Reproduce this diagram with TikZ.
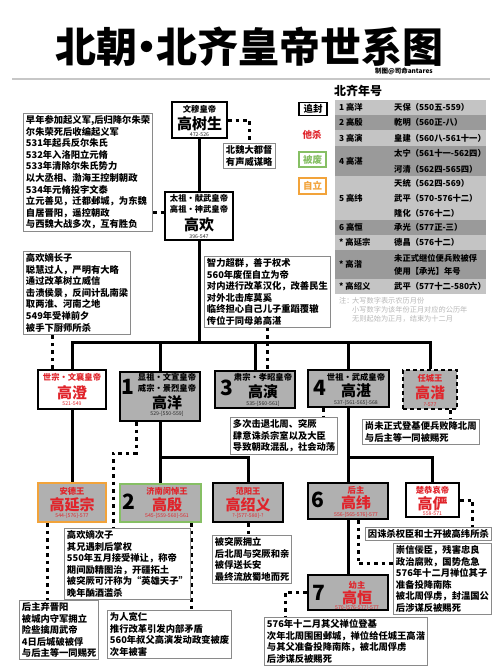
\documentclass[tikz,border=0pt]{standalone}
\usepackage{fontspec}
\setmainfont{Noto Sans CJK SC}
\setsansfont{Noto Sans CJK SC}
\usetikzlibrary{calc}
\definecolor{boxgray}{HTML}{B0B0B0}
\definecolor{tlight}{HTML}{C4C4C4}
\definecolor{tdark}{HTML}{9A9A9A}
\definecolor{kred}{HTML}{E0242B}
\definecolor{kgreen}{HTML}{86BF64}
\definecolor{korange}{HTML}{F2A33A}
\definecolor{descgray}{HTML}{8A8A8A}
\pgfdeclarelayer{bg}
\pgfsetlayers{bg,main}
\begin{document}
\begin{tikzpicture}[x=1pt,y=-1pt,
  nbox/.style={draw=black, line width=2.2pt, fill=white, inner sep=0pt},
  gbox/.style={nbox, fill=boxgray},
  tl/.style={inner sep=0pt, font=\fontsize{8.3}{9}\selectfont\bfseries},
  nm/.style={inner sep=0pt, font=\fontsize{15}{16}\selectfont\bfseries},
  dtt/.style={inner sep=0pt, font=\fontsize{5.2}{6}\selectfont, text=black!85},
  numd/.style={inner sep=0pt, font=\fontsize{21}{21}\selectfont\bfseries},
  rd/.style={text=kred},
  desc/.style={draw=descgray, line width=0.9pt, fill=white, align=left, anchor=north west, inner xsep=2.5pt, inner ysep=2pt, font=\fontsize{9.3}{11.6}\selectfont\bfseries},
  sol/.style={line width=3pt},
  dotl/.style={line width=3pt, dash pattern=on 3.5pt off 4pt},
  tname/.style={anchor=west, inner sep=0pt, font=\fontsize{8.3}{9}\selectfont\bfseries},
  lg/.style={line width=1.4pt, minimum width=27, minimum height=15, inner sep=0pt, fill=white, font=\fontsize{9.5}{10}\selectfont\bfseries},
  note/.style={anchor=west, inner sep=0pt, text=black!28, font=\fontsize{7.2}{8}\selectfont},
]
\useasboundingbox (0,0) rectangle (500,669);
\begin{pgfonlayer}{bg}
\fill[white] (0,0) rectangle (500,669);
\end{pgfonlayer}

% title
\node[inner sep=0pt] (title) at (249,47) {\fontsize{41}{41}\selectfont\bfseries 北朝\kern-11pt·\kern-11pt北齐皇帝世系图};
\node[anchor=east, inner sep=0pt] (credit) at (433,71) {\fontsize{6.5}{7}\selectfont\bfseries 制图@司命antares};
\draw[black!22, line width=1.2pt] (12,79) -- (490,79);

% legend
\node[inner sep=0pt] (nqhead) at (358,91) {\fontsize{12}{12}\selectfont\bfseries 北齐年号};
\node[lg, draw=black, minimum width=28, minimum height=13] (lg1) at (313,109) {追封};
\node[lg, text=kred] (lg2) at (312,135) {他杀};
\node[lg, draw=kgreen, text=kgreen] (lg3) at (312.5,159.5) {被废};
\node[lg, draw=korange, text=korange, minimum height=16] (lg4) at (312.5,186) {自立};

% table of era names
\fill[tlight] (335,100) rectangle (486,115);
\fill[tdark]  (335,115) rectangle (486,130);
\fill[tlight] (335,130) rectangle (486,146);
\fill[tdark]  (335,146) rectangle (486,176);
\fill[tlight] (335,176) rectangle (486,220);
\fill[tdark]  (335,220) rectangle (486,235);
\fill[tlight] (335,235) rectangle (486,250);
\fill[tdark]  (335,250) rectangle (486,279);
\fill[tlight] (335,279) rectangle (486,294);
\node[tname] (t1n) at (339,107.5) {1 高洋};
\node[tname] (t1e) at (394,107.5) {天保（550五-559）};
\node[tname] (t2n) at (339,122.5) {2 高殷};
\node[tname] (t2e) at (394,122.5) {乾明（560正-八）};
\node[tname] (t3n) at (339,138) {3 高演};
\node[tname] (t3e) at (394,138) {皇建（560八-561十一）};
\node[tname] (t4n) at (339,161) {4 高湛};
\node[tname] (t4e) at (394,153.5) {太宁（561十一-562四）};
\node[tname] (t4f) at (394,169) {河清（562四-565四）};
\node[tname] (t5n) at (339,198) {5 高纬};
\node[tname] (t5e) at (394,183) {天统（562四-569）};
\node[tname] (t5f) at (394,198) {武平（570-576十二）};
\node[tname] (t5g) at (394,213) {隆化（576十二）};
\node[tname] (t6n) at (339,227.5) {6 高恒};
\node[tname] (t6e) at (394,227.5) {承光（577正-三）};
\node[tname] (t7n) at (339,242.5) {* 高延宗};
\node[tname] (t7e) at (394,242.5) {德昌（576十二）};
\node[tname] (t8n) at (339,264.5) {* 高湝};
\node[tname] (t8e) at (394,258) {未正式继位便兵败被俘};
\node[tname] (t8f) at (394,271.5) {使用【承光】年号};
\node[tname] (t9n) at (339,286.5) {* 高绍义};
\node[tname] (t9e) at (394,286.5) {武平（577十二-580六）};
\node[note] (n1) at (339,301) {注：};
\node[note] (n2) at (352,301) {大写数字表示农历月份};
\node[note] (n3) at (352,310) {小写数字为该年份正月对应的公历年};
\node[note] (n4) at (352,319) {无则起始为正月，结束为十二月};

% ruler boxes
\node[nbox, minimum width=55, minimum height=36] (shusheng) at (199.5,120) {};
\node[tl] (shusheng-a) at (199.5,109.5) {文穆皇帝};
\node[nm] (shusheng-b) at (199.5,123.5) {高树生};
\node[dtt] (shusheng-c) at (199.5,134.5) {472-526};

\node[nbox, minimum width=68, minimum height=48] (gaohuan) at (199,216) {};
\node[tl] (gaohuan-a) at (199,198.5) {太祖·献武皇帝};
\node[tl] (gaohuan-b) at (199,209) {高祖·神武皇帝};
\node[nm] (gaohuan-c) at (199,225) {高欢};
\node[dtt] (gaohuan-d) at (199,236.5) {396-547};

\node[nbox, minimum width=68, minimum height=39] (gaocheng) at (72,389.5) {};
\node[tl, rd] (gaocheng-a) at (72,377.5) {世宗·文襄皇帝};
\node[nm, rd] (gaocheng-b) at (72,393) {高澄};
\node[dtt, rd] (gaocheng-c) at (72,404) {521-549};

\node[gbox, minimum width=80, minimum height=49] (gaoyang) at (160,396.5) {};
\node[numd] (gaoyang-n) at (128,387) {1};
\node[tl] (gaoyang-a) at (167,377.5) {显祖·文宣皇帝};
\node[tl] (gaoyang-b) at (167,388) {威宗·景烈皇帝};
\node[nm] (gaoyang-c) at (167,402.5) {高洋};
\node[dtt] (gaoyang-d) at (167,414) {529-[550-559]};

\node[gbox, minimum width=80, minimum height=37] (gaoyan) at (255,389.5) {};
\node[numd] (gaoyan-n) at (227,388) {3};
\node[tl] (gaoyan-a) at (263,377.5) {肃宗·孝昭皇帝};
\node[nm] (gaoyan-b) at (263,392) {高演};
\node[dtt] (gaoyan-c) at (263,403.5) {535-[560-561]};

\node[gbox, minimum width=81, minimum height=37] (gaozhan) at (348.5,388.5) {};
\node[numd] (gaozhan-n) at (320,388) {4};
\node[tl] (gaozhan-a) at (356,377.5) {世祖·武成皇帝};
\node[nm] (gaozhan-b) at (356,391) {高湛};
\node[dtt] (gaozhan-c) at (356,402.5) {537-[561-565]-568};

\node[gbox, dash pattern=on 4pt off 3pt, line width=2pt, minimum width=54, minimum height=39] (gaoqian) at (430,389.5) {};
\node[tl, rd] (gaoqian-a) at (430,378) {任城王};
\node[nm, rd] (gaoqian-b) at (430,392.5) {高湝};
\node[dtt, rd] (gaoqian-c) at (430,404.5) {?-577};

\node[gbox, draw=korange, minimum width=68, minimum height=39] (gaoyanzong) at (72,502.5) {};
\node[tl, rd] (gaoyanzong-a) at (72,491.5) {安德王};
\node[nm, rd] (gaoyanzong-b) at (72,505) {高延宗};
\node[dtt, rd] (gaoyanzong-c) at (72,515.5) {544-[576]-577};

\node[gbox, draw=kgreen, minimum width=81, minimum height=38] (gaoyin) at (160.5,503) {};
\node[numd] (gaoyin-n) at (129,502) {2};
\node[tl, rd] (gaoyin-a) at (167,491.5) {济南闵悼王};
\node[nm, rd] (gaoyin-b) at (167,505) {高殷};
\node[dtt, rd] (gaoyin-c) at (167,516) {545-[559-560]-561};

\node[gbox, minimum width=70, minimum height=39] (gaoshaoyi) at (248,502.5) {};
\node[tl, rd] (gaoshaoyi-a) at (248,491.5) {范阳王};
\node[nm, rd] (gaoshaoyi-b) at (248,505) {高绍义};
\node[dtt, rd] (gaoshaoyi-c) at (248,516) {?-[577-580]-?};

\node[gbox, minimum width=80, minimum height=36] (gaowei) at (348,501) {};
\node[numd] (gaowei-n) at (318,500) {6};
\node[tl, rd] (gaowei-a) at (356,490) {后主};
\node[nm, rd] (gaowei-b) at (356,503) {高纬};
\node[dtt, rd] (gaowei-c) at (356,514.5) {556-[565-576]-577};

\node[nbox, minimum width=53, minimum height=34] (gaoyan2) at (432.5,500) {};
\node[tl, rd] (gaoyan2-a) at (432.5,490.5) {楚恭哀帝};
\node[nm, rd] (gaoyan2-b) at (432.5,504) {高俨};
\node[dtt, rd] (gaoyan2-c) at (432.5,514) {558-571};

\node[gbox, minimum width=80, minimum height=35] (gaoheng) at (348,592.5) {};
\node[numd] (gaoheng-n) at (319,593) {7};
\node[tl, rd] (gaoheng-a) at (357,585) {幼主};
\node[nm, rd] (gaoheng-b) at (357,597.5) {高恒};
\node[dtt, rd] (gaoheng-c) at (357,607.5) {570-[576-577]-577};

% descriptions
\node[desc] (d1) at (23,113) {早年参加起义军,后归降尔朱荣\\尔朱荣死后收编起义军\\531年起兵反尔朱氏\\532年入洛阳立元脩\\533年清除尔朱氏势力\\以大丞相、渤海王控制朝政\\534年元脩投宇文泰\\立元善见，迁都邺城，为东魏\\自居晋阳，遥控朝政\\与西魏大战多次，互有胜负};
\node[desc] (d2) at (23,251) {高欢嫡长子\\聪慧过人，严明有大略\\通过改革树立威信\\击溃侯景，反间计乱南梁\\取两淮、河南之地\\549年受禅前夕\\被手下厨师所杀};
\node[desc] (d3) at (204,256) {智力超群，善于权术\\560年废侄自立为帝\\对内进行改革汉化，改善民生\\对外北击库莫奚\\临终担心自己儿子重蹈覆辙\\传位于同母弟高湛};
\node[desc] (d4) at (223,143) {北魏大都督\\有声威谋略};
\node[desc] (d5) at (230,417) {多次击退北周、突厥\\肆意诛杀宗室以及大臣\\导致朝政混乱，社会动荡};
\node[desc] (d6) at (362,419) {尚未正式登基便兵败降北周\\与后主等一同被赐死};
\node[desc] (d7) at (64,528) {高欢嫡次子\\其兄遇刺后掌权\\550年五月接受禅让，称帝\\期间励精图治，开疆拓土\\被突厥可汗称为“英雄天子”\\晚年酗酒滥杀};
\node[desc] (d8) at (212,535) {被突厥拥立\\后北周与突厥和亲\\被俘送长安\\最终流放蜀地而死};
\node[desc] (d9) at (107,610) {为人宽仁\\推行改革引发内部矛盾\\560年叔父高演发动政变被废\\次年被害};
\node[desc] (d10) at (19,600) {后主弃晋阳\\被城内守军拥立\\险些擒周武帝\\4日后城破被俘\\与后主等一同赐死};
\node[desc] (d11) at (365,527) {因诛杀权臣和士开被高纬所杀};
\node[desc] (d12) at (393,543) {崇信佞臣，残害忠良\\政治腐败，国势危急\\576年十二月禅位其子\\准备投降南陈\\被北周俘虏，封温国公\\后涉谋反被赐死};
\node[desc] (d13) at (264,617) {576年十二月其父禅位登基\\次年北周围困邺城，禅位给任城王高湝\\与其父准备投降南陈，被北周俘虏\\后涉谋反被赐死};

% connectors
\coordinate (bar1) at (430,342);
\coordinate (bar2) at (248,457);
\coordinate (bar3) at (432.5,457);
\coordinate (c1) at (113,453);
\begin{pgfonlayer}{bg}
\draw[sol] (gaocheng.north) |- (bar1) -- (gaoqian.north);
\draw[sol] (gaohuan.south) -- (gaohuan.south |- bar1);
\draw[sol] (gaoyang.north) -- (gaoyang.north |- bar1);
\draw[sol] (gaoyan.north) -- (gaoyan.north |- bar1);
\draw[sol] (gaozhan.north) -- (gaozhan.north |- bar1);
\draw[sol] (shusheng.south) -- (shusheng.south |- gaohuan.north);
\draw[sol] (gaocheng.south) -- (gaoyanzong.north);
\draw[sol] (gaoyang.south) -- (gaoyang.south |- gaoyin.north);
\draw[sol] (gaoyang.south |- bar2) -| (gaoshaoyi.north);
\draw[sol] (gaozhan.south) -- (gaozhan.south |- gaowei.north);
\draw[sol] (gaozhan.south |- bar3) -| (gaoyan2.north);
\draw[sol] (gaowei.south) -- (gaoheng.north);

\draw[dotl] (shusheng.east) -| (d4.north);
\draw[dotl] ([yshift=4]gaohuan.west -| d1.east) -- ([yshift=4]gaohuan.west);
\draw[dotl] ([xshift=-20]gaocheng.north) -- ([xshift=-20]gaocheng.north |- d2.south);
\draw[dotl] (d3.south) -- (d3.south |- gaoyan.north);
\draw[dotl] ([xshift=-24]gaoyang.south) |- (c1) -- (c1 |- d7.north);
\draw[dotl] ([xshift=20]gaoqian.south) -- ([xshift=20]gaoqian.south |- d6.north);
\draw[dotl] ([xshift=-25]gaozhan.south) -- ([xshift=-25]gaozhan.south |- d5.north);
\draw[dotl] ([xshift=-25]gaoyanzong.south) -- ([xshift=-25]gaoyanzong.south |- d10.north);
\draw[dotl] ([xshift=31]gaoyin.south) -- ([xshift=31]gaoyin.south |- d9.north);
\draw[dotl] (gaoshaoyi.south) -- (gaoshaoyi.south |- d8.north);
\draw[dotl] (gaoyan2.east) -| ([xshift=-19]d11.north east);
\draw[dotl] ([xshift=10]gaowei.south) |- ([yshift=15]d12.west);
\draw[dotl] (gaoheng.west) -| ([xshift=21]d13.north west);
\end{pgfonlayer}
\end{tikzpicture}
\end{document}
